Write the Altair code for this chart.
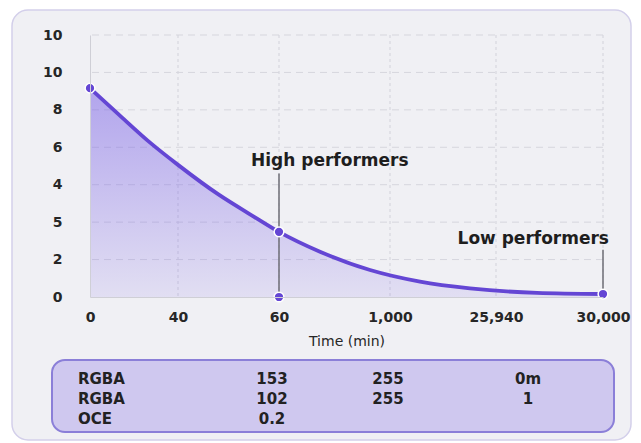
import json
import pandas as pd
import altair as alt

# ---------------- data ----------------
curve_minutes = [0, 13, 28, 40, 48, 55, 60, 407, 831, 8058, 19823, 27496, 30000]
curve_level = [5.58, 4.88, 4.09, 3.53, 2.74, 2.15, 1.74, 1.21, 0.72, 0.41, 0.23, 0.11, 0.08]

marker_minutes = [0, 60, 60, 30000]
marker_level = [5.58, 1.74, 0, 0.08]

ann_labels = ["High performers", "Low performers"]
ann_minutes = [60, 30000]
ann_top = [3.30, 1.26]
ann_bottom = [0, 0.08]

x_ticks = [0, 40, 60, 1000, 25940, 30000]
y_ticks = [0, 1, 2, 3, 4, 5, 6, 7]
y_tick_labels = ["0", "2", "5", "4", "6", "8", "10", "10"]

table_names = ["RGBA", "RGBA", "OCE"]
table_col1 = ["153", "102", "0.2"]
table_col2 = ["255", "255", ""]
table_col3 = ["0m", "1", ""]

# ---------------- styles ----------------
FONT = "DejaVu Sans"
PURPLE = "#6446d4"
TXT = "#262626"
W, H = 513, 262

curve_df = pd.DataFrame({"minutes": curve_minutes, "level": curve_level})
marker_df = pd.DataFrame({"minutes": marker_minutes, "level": marker_level})
ann_df = pd.DataFrame({"label": ann_labels, "minutes": ann_minutes,
                       "level": ann_top, "bottom": ann_bottom})
xgrid_df = pd.DataFrame({"minutes": x_ticks[1:]})
ygrid_df = pd.DataFrame({"level": y_ticks[1:]})

rows = []
for r, (a, b, c, d) in enumerate(zip(table_names, table_col1, table_col2, table_col3)):
    rows.append({"row": r, "col": 0, "text": a})
    for ci, t in ((1, b), (2, c), (3, d)):
        if t:
            rows.append({"row": r, "col": ci, "text": t})
table_df = pd.DataFrame(rows)

xscale = alt.Scale(domain=x_ticks, range=[0, 88, 189, 300, 406, 513], nice=False, zero=False)
yscale = alt.Scale(domain=[0, 7], nice=False, zero=False)

xaxis = alt.Axis(values=x_ticks, grid=False, ticks=False,
                 labelExpr="format(datum.value, ',')",
                 domainColor="#cfcfd6", domainWidth=1,
                 labelFont=FONT, labelFontSize=14, labelFontWeight="bold",
                 labelColor=TXT, labelPadding=13, labelOverlap=False, labelFlush=False,
                 title="Time (min)", titleFont=FONT, titleFontSize=14,
                 titleFontWeight="normal", titleColor=TXT, titlePadding=10, zindex=1)
yaxis = alt.Axis(values=y_ticks, grid=False, ticks=False,
                 domainColor="#cfcfd6", domainWidth=1,
                 labelExpr=json.dumps(y_tick_labels) + "[datum.value]",
                 labelFont=FONT, labelFontSize=14, labelFontWeight="bold",
                 labelColor=TXT, labelPadding=28, labelOverlap=False, labelFlush=False,
                 title=None, zindex=1)

X = alt.X("minutes:Q", scale=xscale, axis=xaxis)
Y = alt.Y("level:Q", scale=yscale, axis=yaxis)

one = pd.DataFrame({"a": [0]})

card = alt.Chart(one).mark_rect(
    fill="#f0f0f4", stroke="#d3cfea", strokeWidth=1.5, cornerRadius=16
).encode(x=alt.value(-78), x2=alt.value(541), y=alt.value(-25), y2=alt.value(405))

grid_v = alt.Chart(xgrid_df).mark_rule(
    color="#d2d2da", strokeWidth=1, strokeDash=[3, 3]).encode(x=X)
grid_h = alt.Chart(ygrid_df).mark_rule(
    color="#d6d6dd", strokeWidth=1, strokeDash=[7, 5]).encode(y=Y)

gradient = alt.LinearGradient(
    gradient="linear",
    stops=[alt.GradientStop(color="rgba(120,95,230,0.52)", offset=0),
           alt.GradientStop(color="rgba(120,95,230,0.12)", offset=1)],
    x1=0, x2=0, y1=0, y2=1)

area = alt.Chart(curve_df).mark_area(interpolate="monotone", color=gradient).encode(x=X, y=Y)
line = alt.Chart(curve_df).mark_line(interpolate="monotone", color=PURPLE,
                                     strokeWidth=3.8).encode(x=X, y=Y)
rules = alt.Chart(ann_df).mark_rule(color="#6e6e76", strokeWidth=1.5).encode(
    x=X, y=Y, y2="bottom:Q")
points = alt.Chart(marker_df).mark_point(
    filled=True, fill=PURPLE, stroke="white", strokeWidth=1.5, size=95, opacity=1
).encode(x=X, y=Y)
texts = alt.Chart(ann_df).mark_text(
    font=FONT, fontSize=17, fontWeight="bold", color="#1e1e1e",
    align="left", baseline="alphabetic", dx=-28, dy=-7
).encode(x=X, y=Y, text="label:N").transform_filter("datum.minutes < 1000")
texts2 = alt.Chart(ann_df).mark_text(
    font=FONT, fontSize=17, fontWeight="bold", color="#1e1e1e",
    align="right", baseline="alphabetic", dx=6, dy=-6
).encode(x=X, y=Y, text="label:N").transform_filter("datum.minutes >= 1000")

main = alt.layer(grid_v, grid_h, area, line, rules, points, texts, texts2)

tx = alt.Scale(domain=[0, 1, 2, 3], range=[-12, 182, 298, 438])
ty = alt.Scale(domain=[0, 1, 2], range=[344, 364, 384])

box = alt.Chart(one).mark_rect(
    fill="#cfc8ef", stroke="#8b7fd8", strokeWidth=2, cornerRadius=13
).encode(x=alt.value(-38), x2=alt.value(524), y=alt.value(325), y2=alt.value(397))

t_names = alt.Chart(table_df).mark_text(
    font=FONT, fontSize=15, fontWeight="bold", color="#222222",
    align="left", baseline="middle"
).encode(x=alt.X("col:Q", scale=tx, axis=None),
         y=alt.Y("row:Q", scale=ty, axis=None),
         text="text:N").transform_filter("datum.col == 0")
t_vals = alt.Chart(table_df).mark_text(
    font=FONT, fontSize=15, fontWeight="bold", color="#222222",
    align="center", baseline="middle"
).encode(x=alt.X("col:Q", scale=tx, axis=None),
         y=alt.Y("row:Q", scale=ty, axis=None),
         text="text:N").transform_filter("datum.col > 0")

table = alt.layer(box, t_names, t_vals)

chart = alt.layer(card, main, table).resolve_scale(
    x="independent", y="independent"
).properties(
    width=W, height=H,
    autosize=alt.AutoSizeParams(type="none"),
    padding={"left": 82, "top": 27, "right": 30, "bottom": 145},
).configure_view(strokeWidth=0)

chart.save("out.html", embed_options={"renderer": "svg", "actions": False})
